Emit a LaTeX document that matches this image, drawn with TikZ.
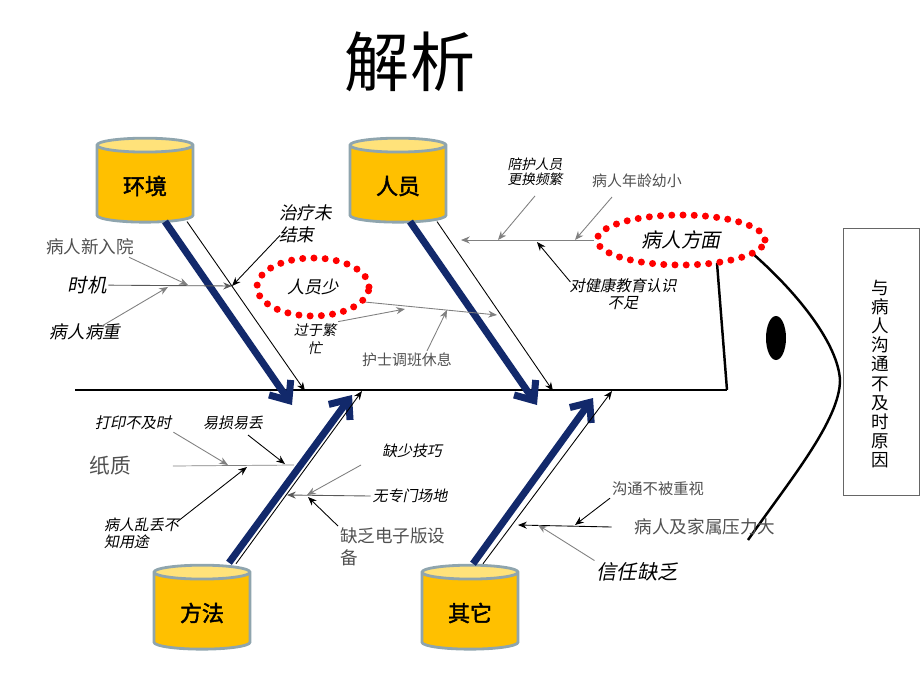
\documentclass[tikz,border=0pt]{standalone}
\usepackage{fontspec}
\setmainfont{Noto Sans CJK SC}
\newfontfamily\cjkit[FakeSlant=0.2]{Noto Sans CJK SC}
\newfontfamily\cjkbf[FakeBold=2]{Noto Sans CJK SC}
\usepackage{xcolor}
\usepackage{tikz}
\usetikzlibrary{positioning,shapes.geometric,arrows.meta}
\definecolor{drumgold}{HTML}{FFC000}
\definecolor{drumtop}{HTML}{FFE27A}
\definecolor{drumedge}{HTML}{8FA5AE}
\definecolor{bonenavy}{HTML}{12296B}
\definecolor{labelgray}{HTML}{505050}
\newcommand\itsz[2]{\cjkit\fontsize{#1}{#2}\selectfont}
\newcommand\rmsz[2]{\fontsize{#1}{#2}\selectfont}

\begin{document}
\begin{tikzpicture}[x=0.02cm, y=-0.02cm,
  drum/.style={cylinder, shape border rotate=90, aspect=0.25, draw=drumedge, line width=1.6pt,
    cylinder uses custom fill, cylinder body fill=drumgold, cylinder end fill=drumtop,
    minimum width=1.92cm, minimum height=1.68cm, font=\cjkbf\rmsz{12.5}{14}},
  bone/.style={draw=bonenavy, line width=4pt, -{Straight Barb[length=9pt,width=15pt]}},
  rib/.style={-{Stealth[length=5pt,width=4pt]}, line width=0.5pt},
  faint/.style={rib, draw=gray},
  tag/.style={text=labelgray, inner sep=1pt},
  itag/.style={inner sep=1pt},
  ring/.style={ellipse, draw=red, line width=4pt, line cap=round, dash pattern=on 0pt off 6.4pt}
]
\useasboundingbox (0,0) rectangle (920,690);

\node[font=\rmsz{37}{40}] (title) at (410,62) {解析};

\node[drum] (env) at (145,186) {环境};
\node[drum] (staff) at (398,186) {人员};
\node[drum] (method) at (202,613) {方法};
\node[drum] (other) at (470,613) {其它};

\coordinate (tailEnd) at (75,390);
\coordinate (headEnd) at (727,390);
\coordinate (gillTop) at (717,263);
\coordinate (jawTop) at (752,253);
\coordinate (nose) at (840,380);
\coordinate (jawBot) at (748,540);
\draw[line width=0.6pt] (tailEnd) -- (headEnd);
\draw[line width=1.4pt] (gillTop) -- (headEnd);
\draw[line width=1.4pt] (jawTop) .. controls (800,295) and (838,345) .. (nose)
  .. controls (840,420) and (790,480) .. (jawBot);
\fill (776,338) ellipse [x radius=10, y radius=22];
\node[draw=gray!80!black, minimum width=1.52cm, minimum height=5.34cm] (frame) at (881,362) {};
\node[align=center, font=\rmsz{10}{10.9}] (reason) at (880,374) {与\\病\\人\\沟\\通\\不\\及\\时\\原\\因};

\coordinate (envTip) at (292,405);
\coordinate (envThin) at (305,391);
\coordinate (staffTip) at (537,405);
\coordinate (staffThin) at (553,391);
\coordinate (methodTip) at (352,395);
\coordinate (methodThin) at (362,391);
\coordinate (otherTip) at (593,398);
\coordinate (otherThin) at (612,391);
\draw[bone] ([shift={(20,-2)}]env.south) -- (envTip);
\draw[rib] ([shift={(42,-2)}]env.south) -- (envThin);
\draw[bone] ([shift={(12,-2)}]staff.south) -- (staffTip);
\draw[rib] ([shift={(39,-2)}]staff.south) -- (staffThin);
\draw[bone] ([shift={(27,-1)}]method.north) -- (methodTip);
\draw[rib] ([shift={(34,0)}]method.north) -- (methodThin);
\draw[bone] ([shift={(3,0)}]other.north) -- (otherTip);
\draw[rib] ([shift={(13,0)}]other.north) -- (otherThin);

\node[itag, font=\itsz{10}{12.5}, align=left, anchor=north west] (cure) at (277,203) {治疗未\\结束};
\node[itag, font=\itsz{11}{13}] (timing) at (87,285) {时机};
\node[tag, font=\rmsz{10}{12}] (newadm) at (90,247) {病人新入院};
\node[itag, font=\itsz{10}{12}] (severe) at (85,332) {病人病重};
\node[ring, minimum width=2.24cm, minimum height=1.16cm, font=\itsz{9.8}{12}] (fewstaff) at (313,287) {人员少};
\node[itag, font=\itsz{8}{10}, align=center] (busy) at (315,339) {过于繁\\忙};
\node[tag, font=\rmsz{8.5}{10}] (swap) at (407,360) {护士调班休息};

\node[itag, font=\itsz{7.8}{8.5}, align=center] (escort) at (535,172) {陪护人员\\更换频繁};
\node[tag, font=\rmsz{8.5}{10}] (young) at (637,181) {病人年龄幼小};
\node[itag, font=\itsz{8.7}{10}, align=center] (edu) at (623,294) {对健康教育认识\\不足};
\node[ring, minimum width=3.36cm, minimum height=1cm, font=\itsz{11.3}{13}] (patient) at (681,240) {病人方面};

\node[itag, font=\itsz{8.7}{10}] (print) at (133,423) {打印不及时};
\node[itag, font=\itsz{8.5}{10}] (fragile) at (233,423) {易损易丢};
\node[tag, font=\rmsz{11.8}{13}] (paper) at (110,466) {纸质};
\node[itag, font=\itsz{8.5}{9.6}, align=left, anchor=north west] (lose) at (102,516) {病人乱丢不\\知用途};
\node[itag, font=\itsz{8.5}{10}] (skill) at (412,451) {缺少技巧};
\node[itag, font=\itsz{8.5}{10}] (room) at (410,496) {无专门场地};
\node[tag, font=\rmsz{10}{12.5}, align=left, anchor=north west] (device) at (338,526) {缺乏电子版设\\备};

\node[tag, font=\rmsz{8.7}{10}] (ignored) at (658,489) {沟通不被重视};
\node[tag, font=\rmsz{10}{12}] (stress) at (705,527) {病人及家属压力大};
\node[itag, font=\itsz{11.5}{13}] (trust) at (637,572) {信任缺乏};

\coordinate (tEnv) at (232,286);
\coordinate (tNew) at (188,285);
\coordinate (tSev) at (168,287);
\coordinate (tFew) at (497,315);
\coordinate (tBusy) at (405,309);
\coordinate (tSwap) at (447,310);
\coordinate (tPat) at (461,240);
\coordinate (tEscort) at (498,240);
\coordinate (tYoung) at (575,240);
\coordinate (tEdu) at (537,242);
\coordinate (tPaper) at (294,465);
\coordinate (tPrint) at (228,465);
\coordinate (tFragile) at (285,464);
\coordinate (tLose) at (247,467);
\coordinate (tSkill) at (307,495);
\coordinate (tRoom) at (287,495);
\coordinate (tDevice) at (308,497);
\coordinate (tIgn) at (575,525);
\coordinate (tStress) at (518,525);
\coordinate (tTrust) at (538,525);

\draw[rib, draw=gray!70!black] (timing) -- (tEnv);
\draw[faint] ([shift={(-7,0)}]newadm.south east) -- (tNew);
\draw[faint] ([shift={(-20,4)}]severe.north east) -- (tSev);
\draw[rib] ([shift={(3,-10)}]cure.south west) -- (tEnv);
\draw[faint] (fewstaff.-16) -- (tFew);
\draw[faint] (busy.north east) -- (tBusy);
\draw[faint] ([shift={(20,0)}]swap.north) -- (tSwap);

\draw[faint] (patient.west) -- (tPat);
\draw[faint] ([shift={(0,8)}]escort.south) -- (tEscort);
\draw[faint] ([shift={(-25,7)}]young.south) -- (tYoung);
\draw[rib] ([shift={(3,6)}]edu.north west) -- (tEdu);

\draw[gray] ([shift={(40,0)}]paper.east) -- (tPaper);
\draw[faint] (print.south east) -- (tPrint);
\draw[rib] ([shift={(15,3)}]fragile.south) -- (tFragile);
\draw[rib] ([shift={(-4,6)}]lose.north east) -- (tLose);
\draw[faint] ([shift={(-19,5)}]skill.south west) -- (tSkill);
\draw[rib, draw=gray!70!black] (room.west) -- (tRoom);
\draw[rib] (device.north west) -- (tDevice);

\draw[rib] (ignored.south west) -- (tIgn);
\draw[rib] ([shift={(-21,0)}]stress.west) -- (tStress);
\draw[faint] (trust.north west) -- (tTrust);
\end{tikzpicture}
\end{document}
